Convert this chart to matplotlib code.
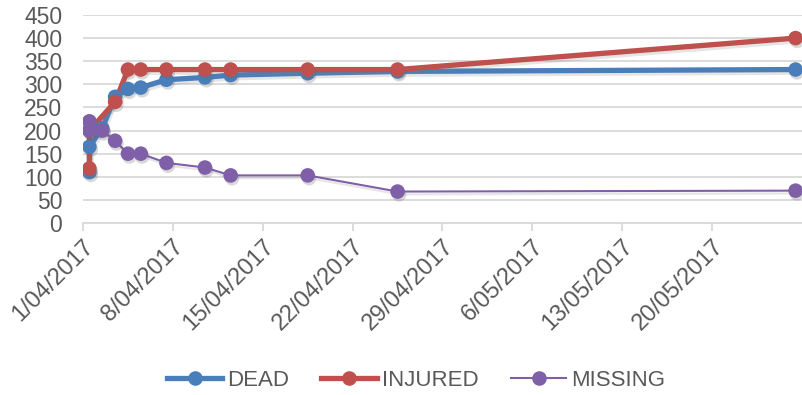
"""Casualty counts over time: dead, injured and missing."""

import datetime as dt

import numpy as np
import matplotlib
matplotlib.use('Agg')
import matplotlib.pyplot as plt
import matplotlib.dates as mdates
import matplotlib.patheffects as pe

# report dates (several reports on the first day)
dates = ['2017-04-01', '2017-04-01', '2017-04-02', '2017-04-03',
         '2017-04-04', '2017-04-05', '2017-04-07', '2017-04-10',
         '2017-04-12', '2017-04-18', '2017-04-25', '2017-05-26']

dead = [110, 165, 205, 273, 290, 293, 310, 315, 320, 324, 328, 332]
injured = [118, 200, np.nan, 262, 332, 332, 332, 332, 332, 332, 332, 400]
missing = [200, 220, 200, 178, 150, 150, 130, 120, 103, 103, 68, 70]

series = ['DEAD', 'INJURED', 'MISSING']
colors = ['#4a7ebb', '#c0504d', '#7f5fa8']

tick_dates = ['2017-04-01', '2017-04-08', '2017-04-15', '2017-04-22',
              '2017-04-29', '2017-05-06', '2017-05-13', '2017-05-20']
yticks = list(range(0, 451, 50))

FONT = ['Liberation Sans', 'DejaVu Sans']


def main():
    """Main program called during execution."""

    fig = plt.figure(figsize=(8.02, 3.95), dpi=100)
    ax = fig.add_axes([83/802, 1-223/395, 1-83/802, 208/395])

    # points sit in the middle of each day slot
    days = np.array(dates, dtype='datetime64[D]')
    x = mdates.date2num(days.astype(dt.datetime)) + 0.5

    for name, values, color in zip(series, [dead, injured, missing], colors):
        values = np.array(values, dtype=float)
        keep = ~np.isnan(values)
        lw = 1.5 if name == 'MISSING' else 3.8
        ax.plot(x[keep], values[keep], color=color, lw=lw,
                solid_capstyle='round', zorder=2,
                path_effects=[pe.SimpleLineShadow(offset=(1, -2),
                                                  shadow_color='0.5',
                                                  alpha=0.2),
                              pe.Normal()])
        ax.plot(x[keep], values[keep], ls='none', marker='o', ms=10.5,
                color=color, mew=0, zorder=3,
                path_effects=[pe.SimplePatchShadow(offset=(1, -2),
                                                   shadow_rgbFace='0.4',
                                                   alpha=0.25),
                              pe.Normal()])
        ax.plot([], [], color=color, lw=lw, marker='o', ms=10.5, mew=0,
                label=name)

    # axes limits and ticks
    start = mdates.date2num(dt.datetime(2017, 4, 1))
    ax.set_xlim(start, start + 56)
    ax.set_ylim(0, 450)
    ticks = [dt.datetime.strptime(d, '%Y-%m-%d') for d in tick_dates]
    ax.set_xticks(mdates.date2num(ticks))
    ax.set_xticklabels([f'{d.day}/{d.month:02d}/{d.year}' for d in ticks],
                       rotation=45, ha='right', va='top',
                       rotation_mode='anchor')
    ax.set_yticks(yticks)

    # gridlines and spines in light grey
    ax.grid(axis='y', color='#d9d9d9', lw=1.3, zorder=0)
    ax.set_axisbelow(True)
    for side in ['left', 'right', 'top']:
        ax.spines[side].set_visible(False)
    ax.spines['bottom'].set_color('#d9d9d9')
    ax.spines['bottom'].set_linewidth(1.3)
    ax.tick_params(axis='x', colors='#d9d9d9', width=1.3, length=6,
                   labelcolor='#595959', labelsize=17, pad=3)
    ax.tick_params(axis='y', length=0, labelcolor='#595959',
                   labelsize=16.5, pad=15)
    for label in ax.get_xticklabels() + ax.get_yticklabels():
        label.set_fontfamily(FONT)

    # legend below the axes
    fig.legend(loc='center', bbox_to_anchor=(416/802, 1-380/395), ncol=3,
               frameon=False, handlelength=2.5, handletextpad=0.22,
               columnspacing=1.45, borderpad=0,
               prop={'family': FONT, 'size': 16})
    for text in fig.legends[0].get_texts():
        text.set_color('#595959')

    fig.savefig('out.png', dpi=100)


if __name__ == '__main__':
    main()
